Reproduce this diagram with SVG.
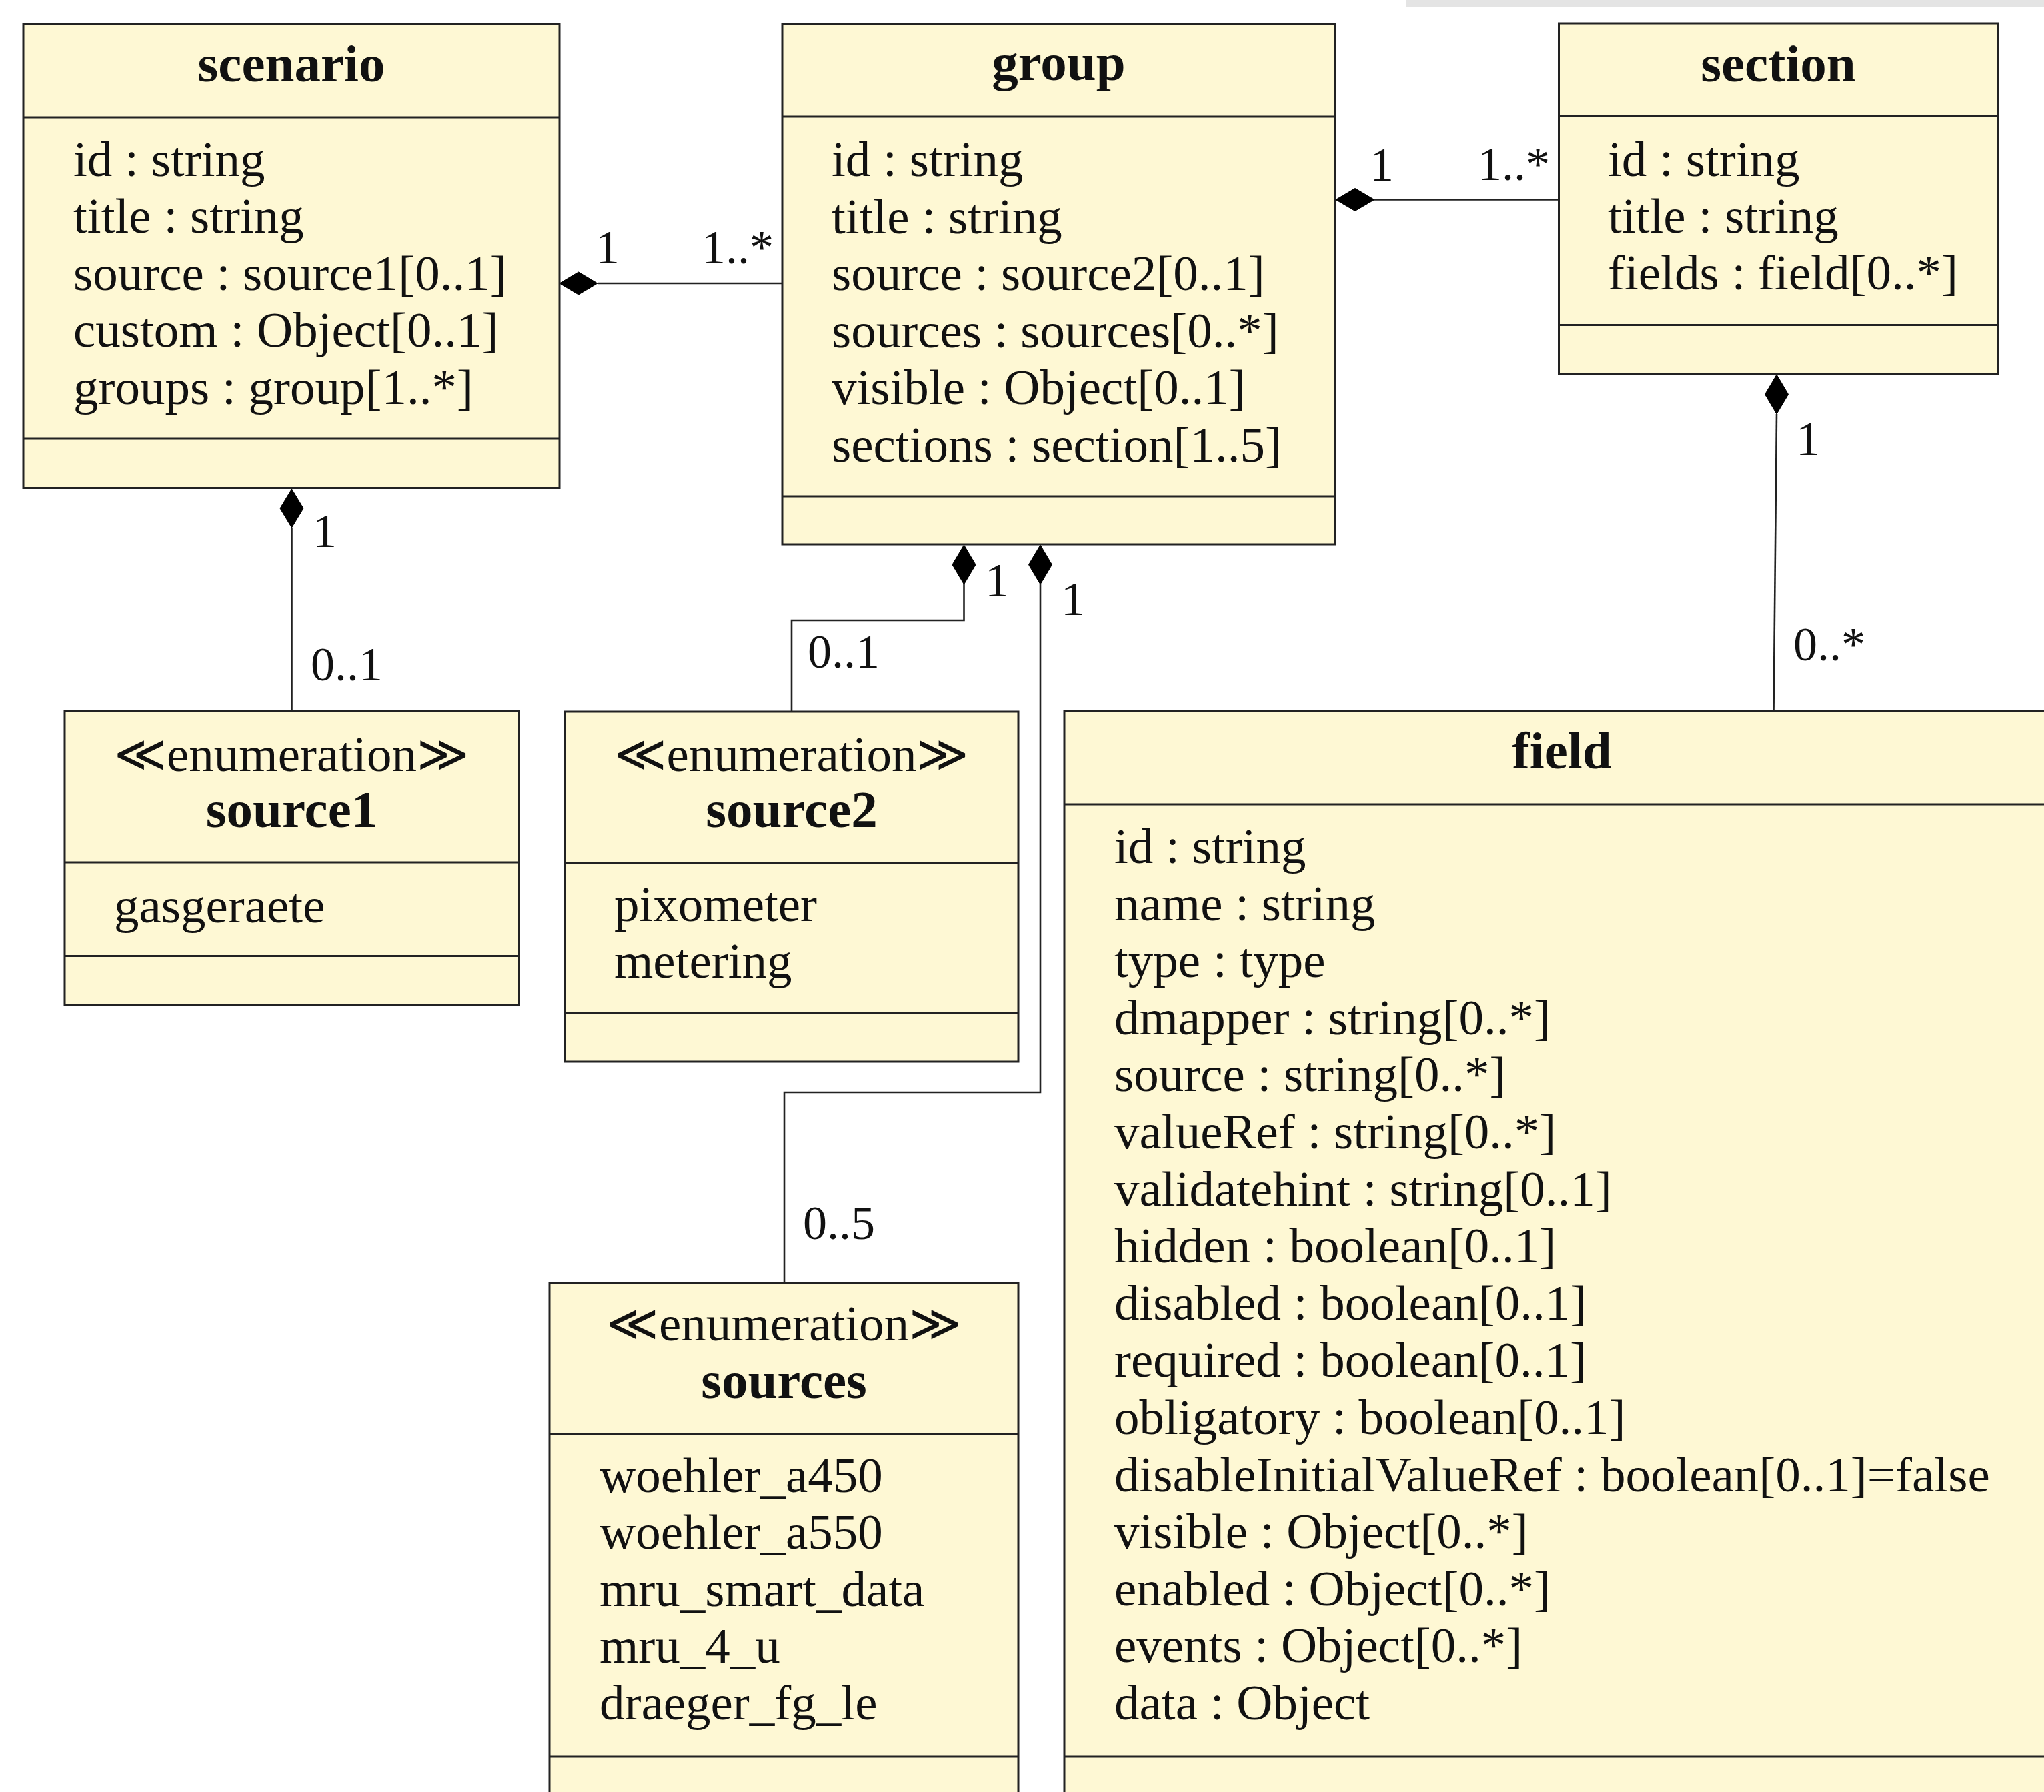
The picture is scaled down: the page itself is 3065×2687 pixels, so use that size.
<svg xmlns="http://www.w3.org/2000/svg" width="3065" height="2687" viewBox="0 0 3065 2687">
<style>
.box{fill:#fef8d4;stroke:#222;stroke-width:3}
.div{stroke:#222;stroke-width:3}
.con{fill:none;stroke:#222;stroke-width:2.6}
.dia{fill:#000;stroke:#000;stroke-width:1}
text{font-family:"Liberation Serif","Times New Roman",serif;fill:#111}
.t{font-size:79px;font-weight:bold;text-anchor:middle}
.s{font-size:75px;text-anchor:middle}
.a{font-size:75px}
.l{font-size:72px}
</style>
<rect x="2108" y="0" width="957" height="11" fill="#e4e4e4"/>

<g id="connectors">
  <path class="con" d="M896,425 L1173,425"/>
  <path class="dia" d="M839,425 L867.5,408 L896,425 L867.5,442 Z"/>
  <text class="l" x="893" y="395">1</text>
  <text class="l" x="1052" y="395">1..*</text>

  <path class="con" d="M2061,299.5 L2337,299.5"/>
  <path class="dia" d="M2003,299.5 L2032,282.5 L2061,299.5 L2032,316.5 Z"/>
  <text class="l" x="2054" y="271">1</text>
  <text class="l" x="2216" y="270">1..*</text>

  <path class="con" d="M2664,621 L2659.5,1066"/>
  <path class="dia" d="M2664,562 L2681.5,591.5 L2664,621 L2646.5,591.5 Z"/>
  <text class="l" x="2693" y="682">1</text>
  <text class="l" x="2689" y="990">0..*</text>

  <path class="con" d="M437.5,791 L437.5,1066"/>
  <path class="dia" d="M437.5,733 L455,762 L437.5,791 L420,762 Z"/>
  <text class="l" x="469" y="820">1</text>
  <text class="l" x="466" y="1020">0..1</text>

  <path class="con" d="M1445.5,876 L1445.5,930 L1187,930 L1187,1067"/>
  <path class="dia" d="M1445.5,817 L1463,846.5 L1445.5,876 L1428,846.5 Z"/>
  <text class="l" x="1477" y="894">1</text>
  <text class="l" x="1211" y="1001">0..1</text>

  <path class="con" d="M1560,876 L1560,1638 L1176,1638 L1176,1923"/>
  <path class="dia" d="M1560,817 L1577.5,846.5 L1560,876 L1542.5,846.5 Z"/>
  <text class="l" x="1591" y="922">1</text>
  <text class="l" x="1204" y="1858">0..5</text>
</g>

<g id="scenario">
  <rect class="box" x="35" y="35.5" width="804" height="696"/>
  <line class="div" x1="35" y1="176" x2="839" y2="176"/>
  <line class="div" x1="35" y1="658" x2="839" y2="658"/>
  <text class="t" x="437" y="122">scenario</text>
  <text class="a" x="110" y="263.5">id : string</text>
  <text class="a" x="110" y="349">title : string</text>
  <text class="a" x="110" y="434.5">source : source1[0..1]</text>
  <text class="a" x="110" y="520">custom : Object[0..1]</text>
  <text class="a" x="110" y="605.5">groups : group[1..*]</text>
</g>

<g id="group">
  <rect class="box" x="1173" y="35.5" width="829" height="780.5"/>
  <line class="div" x1="1173" y1="175" x2="2002" y2="175"/>
  <line class="div" x1="1173" y1="744" x2="2002" y2="744"/>
  <text class="t" x="1587.5" y="120">group</text>
  <text class="a" x="1247" y="264">id : string</text>
  <text class="a" x="1247" y="349.5">title : string</text>
  <text class="a" x="1247" y="435">source : source2[0..1]</text>
  <text class="a" x="1247" y="520.5">sources : sources[0..*]</text>
  <text class="a" x="1247" y="606">visible : Object[0..1]</text>
  <text class="a" x="1247" y="691.5">sections : section[1..5]</text>
</g>

<g id="section">
  <rect class="box" x="2337.5" y="35" width="658.5" height="526"/>
  <line class="div" x1="2337.5" y1="174" x2="2996" y2="174"/>
  <line class="div" x1="2337.5" y1="487.5" x2="2996" y2="487.5"/>
  <text class="t" x="2666.5" y="122">section</text>
  <text class="a" x="2411" y="264">id : string</text>
  <text class="a" x="2411" y="349">title : string</text>
  <text class="a" x="2411" y="433.5">fields : field[0..*]</text>
</g>

<g id="source1">
  <rect class="box" x="97" y="1066" width="681" height="440.5"/>
  <line class="div" x1="97" y1="1293" x2="778" y2="1293"/>
  <line class="div" x1="97" y1="1433.5" x2="778" y2="1433.5"/>
  <text class="s" x="437.5" y="1156">≪enumeration≫</text>
  <text class="t" x="437.5" y="1240">source1</text>
  <text class="a" x="171" y="1383">gasgeraete</text>
</g>

<g id="source2">
  <rect class="box" x="847" y="1067" width="680" height="525"/>
  <line class="div" x1="847" y1="1294" x2="1527" y2="1294"/>
  <line class="div" x1="847" y1="1519" x2="1527" y2="1519"/>
  <text class="s" x="1187" y="1156">≪enumeration≫</text>
  <text class="t" x="1187" y="1240">source2</text>
  <text class="a" x="921" y="1381">pixometer</text>
  <text class="a" x="921" y="1466">metering</text>
</g>

<g id="sources">
  <rect class="box" x="824" y="1923.5" width="703" height="800"/>
  <line class="div" x1="824" y1="2150.5" x2="1527" y2="2150.5"/>
  <line class="div" x1="824" y1="2634" x2="1527" y2="2634"/>
  <text class="s" x="1175.5" y="2010">≪enumeration≫</text>
  <text class="t" x="1175.5" y="2095.5">sources</text>
  <text class="a" x="899" y="2237">woehler_a450</text>
  <text class="a" x="899" y="2322">woehler_a550</text>
  <text class="a" x="899" y="2407.5">mru_smart_data</text>
  <text class="a" x="899" y="2493">mru_4_u</text>
  <text class="a" x="899" y="2578">draeger_fg_le</text>
</g>

<g id="field">
  <rect class="box" x="1596" y="1066.5" width="1520" height="1700"/>
  <line class="div" x1="1596" y1="1206" x2="3100" y2="1206"/>
  <line class="div" x1="1596" y1="2634" x2="3100" y2="2634"/>
  <text class="t" x="2342" y="1152">field</text>
  <text class="a" x="1671" y="1294">id : string</text>
  <text class="a" x="1671" y="1379.6">name : string</text>
  <text class="a" x="1671" y="1465.2">type : type</text>
  <text class="a" x="1671" y="1550.8">dmapper : string[0..*]</text>
  <text class="a" x="1671" y="1636.4">source : string[0..*]</text>
  <text class="a" x="1671" y="1722">valueRef : string[0..*]</text>
  <text class="a" x="1671" y="1807.6">validatehint : string[0..1]</text>
  <text class="a" x="1671" y="1893.2">hidden : boolean[0..1]</text>
  <text class="a" x="1671" y="1978.8">disabled : boolean[0..1]</text>
  <text class="a" x="1671" y="2064.4">required : boolean[0..1]</text>
  <text class="a" x="1671" y="2150">obligatory : boolean[0..1]</text>
  <text class="a" x="1671" y="2235.6">disableInitialValueRef : boolean[0..1]=false</text>
  <text class="a" x="1671" y="2321.2">visible : Object[0..*]</text>
  <text class="a" x="1671" y="2406.8">enabled : Object[0..*]</text>
  <text class="a" x="1671" y="2492.4">events : Object[0..*]</text>
  <text class="a" x="1671" y="2578">data : Object</text>
</g>
</svg>
